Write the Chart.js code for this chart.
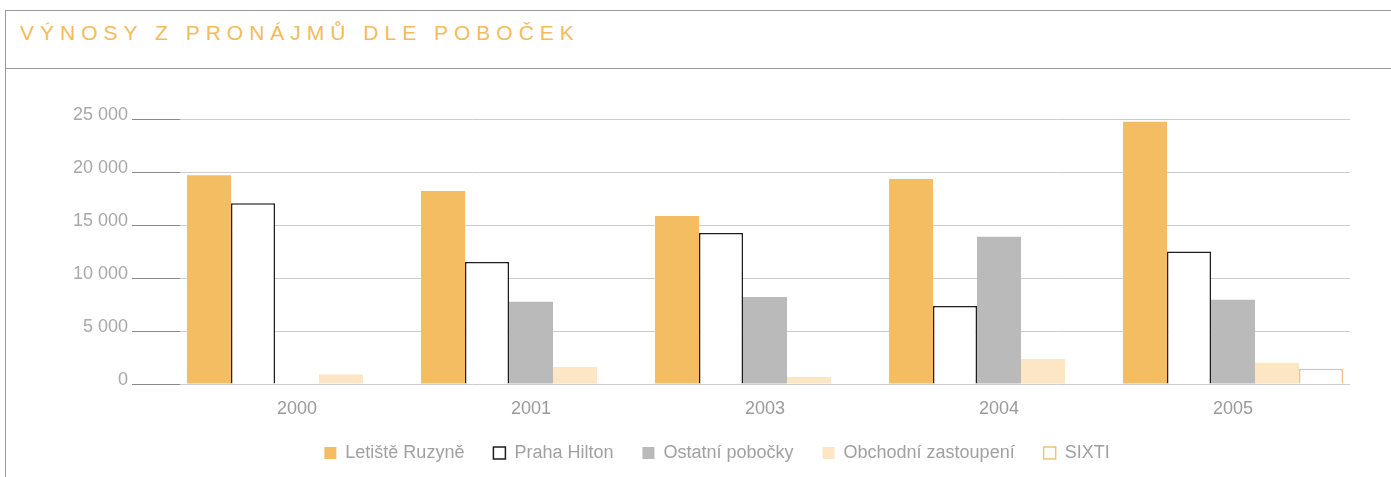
<!DOCTYPE html>
<html>
<head>
<meta charset="utf-8">
<script src="https://cdn.jsdelivr.net/npm/chart.js@4/dist/chart.umd.min.js"></script>
<style>
  html, body { margin: 0; padding: 0; background: #fff; }
  body { width: 1391px; height: 477px; position: relative; overflow: hidden; font-family: "Liberation Sans", Arial, sans-serif; }
  #frame { position: absolute; left: 5px; top: 10px; width: 1400px; height: 480px; border-left: 1px solid #9a9a9a; border-top: 1px solid #9a9a9a; box-sizing: border-box; }
  #band { position: absolute; left: 5px; top: 68px; width: 1400px; height: 0; border-top: 1px solid #9a9a9a; }
  #title { position: absolute; left: 20px; top: 22px; font-size: 21px; line-height: 21px; letter-spacing: 6px; color: #f5ba5a; white-space: nowrap; }
  #c { position: absolute; left: 0; top: 0; }
</style>
</head>
<body>
<div id="frame"></div>
<div id="band"></div>
<div id="title">VÝNOSY Z PRONÁJMŮ DLE POBOČEK</div>
<canvas id="c" width="1391" height="477"></canvas>
<script>
const categories = ['2000', '2001', '2003', '2004', '2005'];
const seriesNames = ['Letiště Ruzyně', 'Praha Hilton', 'Ostatní pobočky', 'Obchodní zastoupení', 'SIXTI'];
const letiste  = [19700, 18200, 15850, 19350, 24750];
const hilton   = [17050, 11500, 14250, 7350, 12500];
const ostatni  = [null, 7750, 8200, 13900, 7950];
const obchodni = [900, 1600, 650, 2350, 2000];
const sixti    = [null, null, null, null, 1450];
const yTicks = [0, 5000, 10000, 15000, 20000, 25000];

const fmt = v => String(v).replace(/\B(?=(\d{3})+(?!\d))/g, ' ');

const legendShift = {
  id: 'legendShift',
  afterLayout(chart) {
    if (chart.legend) { chart.legend.left += 12; chart.legend.right += 12; }
  }
};

new Chart(document.getElementById('c'), {
  type: 'bar',
  data: {
    labels: categories,
    datasets: [
      { label: seriesNames[0], data: letiste, backgroundColor: '#f5bd62', borderWidth: 0 },
      { label: seriesNames[1], data: hilton, backgroundColor: '#ffffff', borderColor: '#1e1e1e', borderWidth: 1.5 },
      { label: seriesNames[2], data: ostatni, backgroundColor: '#bababa', borderWidth: 0 },
      { label: seriesNames[3], data: obchodni, backgroundColor: '#fde6c4', borderWidth: 0 },
      { label: seriesNames[4], data: sixti, backgroundColor: '#ffffff', borderColor: '#f0c27a', borderWidth: 1.5 }
    ]
  },
  plugins: [legendShift],
  options: {
    responsive: false,
    animation: false,
    devicePixelRatio: 1,
    layout: { padding: { left: 60, right: 41, top: 119, bottom: 5 } },
    datasets: { bar: { categoryPercentage: 0.94, barPercentage: 1.0 } },
    plugins: {
      title: { display: false },
      tooltip: { enabled: false },
      legend: {
        position: 'bottom',
        labels: {
          boxWidth: 12, boxHeight: 12, padding: 29,
          color: '#a0a0a0',
          font: { family: '"Liberation Sans", Arial, sans-serif', size: 18 }
        }
      }
    },
    scales: {
      x: {
        grid: { display: false, drawTicks: false },
        border: { display: false },
        ticks: { color: '#9a9a9a', padding: 14, font: { family: '"Liberation Sans", Arial, sans-serif', size: 18 } },
        afterFit: s => { s.height = 31; }
      },
      y: {
        min: 0, max: 25000,
        afterBuildTicks: s => { s.ticks = yTicks.map(v => ({ value: v })); },
        grid: { color: '#cccccc', tickColor: '#8a8a8a', tickLength: 48, lineWidth: 1 },
        border: { display: false },
        ticks: {
          color: '#a8a8a8', padding: 4, labelOffset: -4,
          font: { family: '"Liberation Sans", Arial, sans-serif', size: 18 },
          callback: v => fmt(v)
        },
        afterFit: s => { s.width = 120; }
      }
    }
  }
});
</script>
</body>
</html>
